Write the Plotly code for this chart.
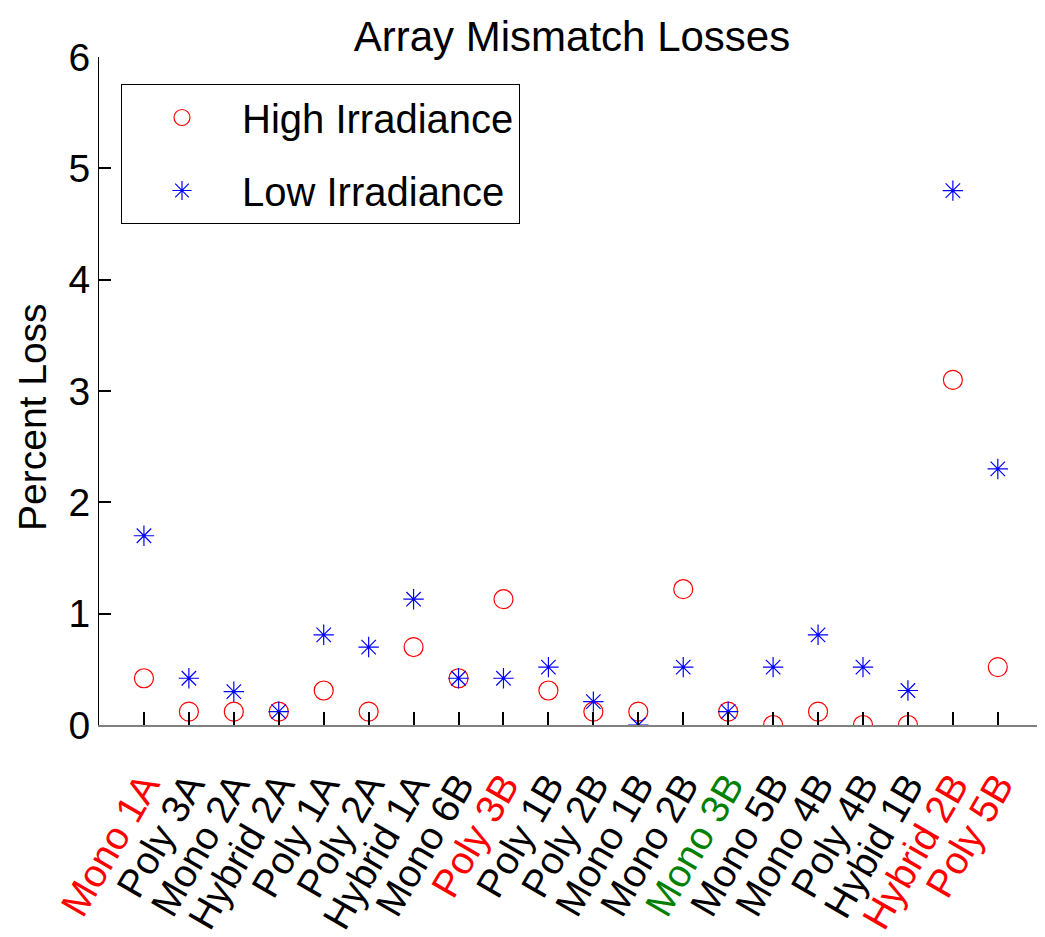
import plotly.graph_objects as go

categories = ["Mono 1A", "Poly 3A", "Mono 2A", "Hybrid 2A", "Poly 1A", "Poly 2A",
              "Hybrid 1A", "Mono 6B", "Poly 3B", "Poly 1B", "Poly 2B", "Mono 1B",
              "Mono 2B", "Mono 3B", "Mono 5B", "Mono 4B", "Poly 4B", "Hybid 1B",
              "Hybrid 2B", "Poly 5B"]
label_colors = ["red", "black", "black", "black", "black", "black",
                "black", "black", "red", "black", "black", "black",
                "black", "green", "black", "black", "black", "black",
                "red", "red"]
high_irradiance = [0.42, 0.12, 0.12, 0.12, 0.31, 0.12, 0.70, 0.42, 1.13, 0.31,
                   0.12, 0.12, 1.22, 0.12, 0.0, 0.12, 0.0, 0.0, 3.1, 0.52]
low_irradiance = [1.70, 0.42, 0.30, 0.12, 0.81, 0.70, 1.13, 0.42, 0.42, 0.52,
                  0.21, 0.0, 0.52, 0.12, 0.52, 0.81, 0.52, 0.31, 4.8, 2.3]
y_ticks = [0, 1, 2, 3, 4, 5, 6]

positions = list(range(1, len(categories) + 1))
tick_vals = positions + [len(categories) + 1]
tick_text = [f'<span style="color:{c}">{t}</span>' for t, c in zip(categories, label_colors)] + [""]

FONT = "Arial, Liberation Sans, Helvetica, sans-serif"

# page body has an 8px margin, so the figure is sized to fit the window
W, H = 1037, 929
L, T, B = 91, 49, 212

fig = go.Figure()
fig.add_trace(go.Scatter(
    x=positions, y=high_irradiance, mode="markers", name="High Irradiance",
    legendgroup="a",
    marker=dict(symbol="circle-open", size=19, color="#ff0000",
                line=dict(color="#ff0000", width=1.2)),
))
fig.add_trace(go.Scatter(
    x=positions, y=low_irradiance, mode="markers", name="Low Irradiance",
    legendgroup="b",
    marker=dict(symbol="asterisk-open", size=17, color="#0000ff",
                line=dict(color="#0000ff", width=1.2)),
))

plot_h = H - T - B
fig.update_layout(
    width=W, height=H,
    margin=dict(l=L, r=0, t=T, b=B, pad=0, autoexpand=False),
    paper_bgcolor="white", plot_bgcolor="white",
    font=dict(family=FONT, size=39, color="black"),
    title=dict(text="Array Mismatch Losses", x=0.5, xref="paper",
               y=1 - 28 / H, yref="container", yanchor="middle", xanchor="center",
               pad=dict(t=0, b=0, l=0, r=0),
               font=dict(size=42, family=FONT, color="black")),
    showlegend=True,
    legend=dict(x=22 / (W - L), y=(plot_h - 27) / plot_h, xanchor="left", yanchor="top",
                bgcolor="white", bordercolor="black", borderwidth=1,
                font=dict(size=40, family=FONT), itemwidth=110,
                tracegroupgap=18, traceorder="grouped"),
    xaxis=dict(range=[0, 21.05], tickmode="array", tickvals=tick_vals, ticktext=tick_text,
               tickangle=-60, ticks="inside", ticklen=13, tickcolor="black", tickwidth=1.5,
               showline=True, linecolor="#808080", linewidth=2, showgrid=False,
               zeroline=False, automargin=False, ticklabelstandoff=20,
               tickfont=dict(size=39, family=FONT)),
    yaxis=dict(range=[0, 6], tickmode="array", tickvals=y_ticks,
               ticks="inside", ticklen=12, tickcolor="black", tickwidth=1.5,
               showline=True, linecolor="black", linewidth=1, showgrid=False,
               zeroline=False, automargin=False,
               tickfont=dict(size=39, family=FONT)),
    annotations=[dict(text="Percent Loss", xref="paper", yref="paper",
                      x=0, xshift=-67, y=(725 - 417) / 668, textangle=-90,
                      showarrow=False, xanchor="center", yanchor="middle",
                      font=dict(size=39, family=FONT, color="black"))],
)

fig.write_html("out.html")
